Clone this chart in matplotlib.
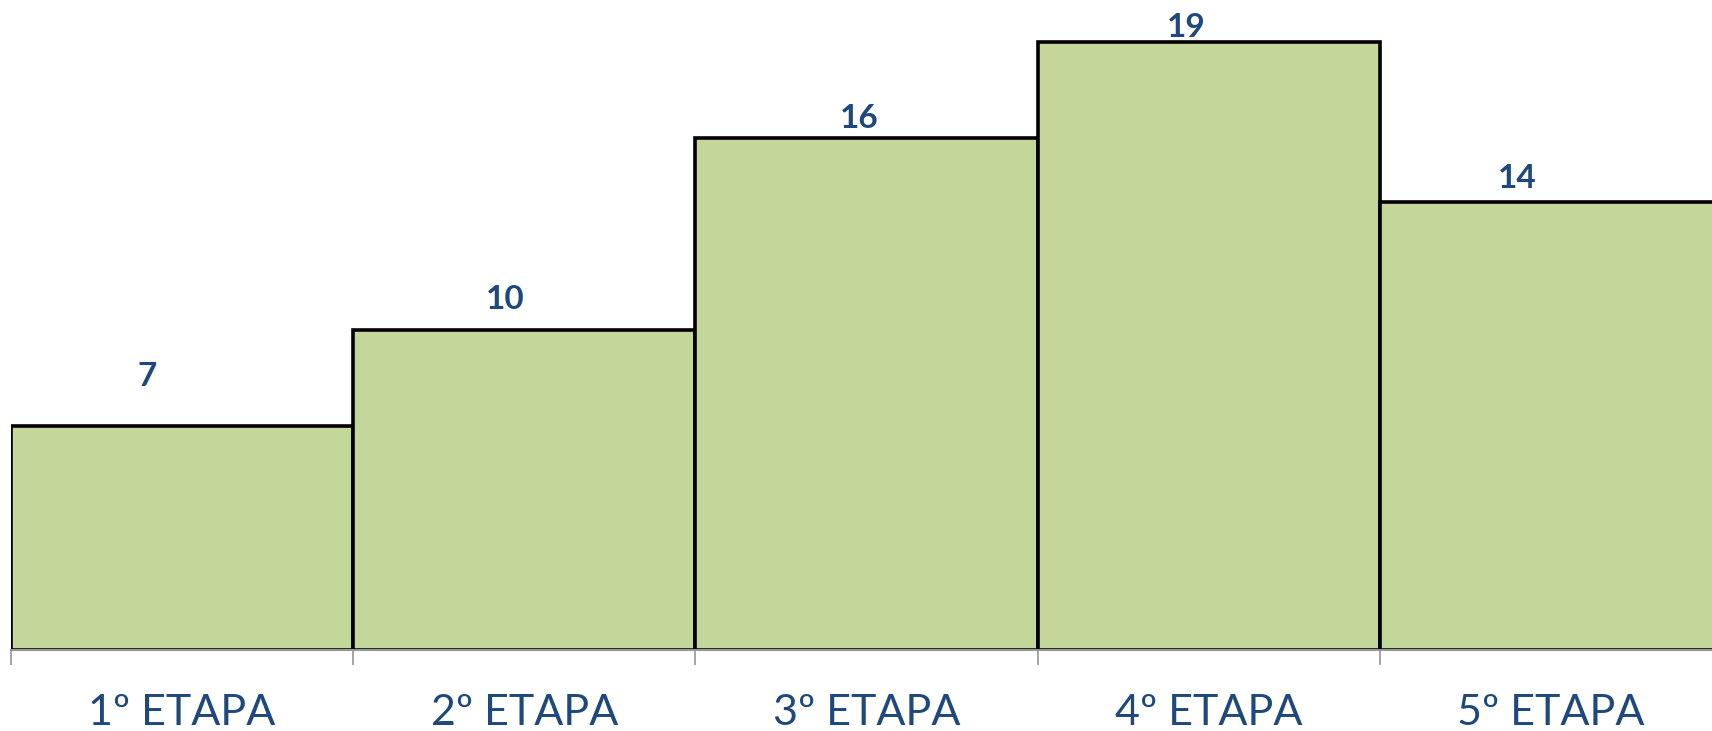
import matplotlib.pyplot as plt

etapas = ["1º ETAPA", "2º ETAPA", "3º ETAPA", "4º ETAPA", "5º ETAPA"]
valores = [7, 10, 16, 19, 14]
# label offsets from each bar's top centre, in points (labels were placed by hand)
label_dx = [-25, -14, -5, -16, -24]
label_dy = [35.5, 21.5, 13.5, 10.5, 16.5]

bar_color = "#C4D79B"
text_color = "#1F497D"

fig = plt.figure(figsize=(17.12, 7.31), dpi=100)
ax = fig.add_axes([11 / 1712, 81 / 731, 1711 / 1712, 650 / 731])

x = list(range(len(etapas)))
ax.bar(x, valores, width=1.0, color=bar_color, edgecolor="black", linewidth=2.6)

for xi, v, dx, dy in zip(x, valores, label_dx, label_dy):
    ax.annotate(str(v), (xi, v), xytext=(dx, dy), textcoords="offset points",
                ha="center", va="center", fontsize=24, fontweight="bold",
                color=text_color, family="Lato")

ax.set_xlim(-0.5, 4.5)
ax.set_ylim(0, 20.3)

ax.set_xticks([i - 0.5 for i in range(len(etapas) + 1)])
ax.set_xticklabels([])
ax.tick_params(axis="x", which="major", length=11, width=1.2, color="#969696")
ax.set_xticks(x, minor=True)
ax.set_xticklabels(etapas, minor=True, fontsize=31, color=text_color, family="Lato")
ax.tick_params(axis="x", which="minor", length=0, pad=32)

ax.set_yticks([])
for s in ["top", "right", "left"]:
    ax.spines[s].set_visible(False)
ax.spines["bottom"].set_color("#969696")
ax.spines["bottom"].set_linewidth(1.5)

fig.savefig("out.png", dpi=100)
